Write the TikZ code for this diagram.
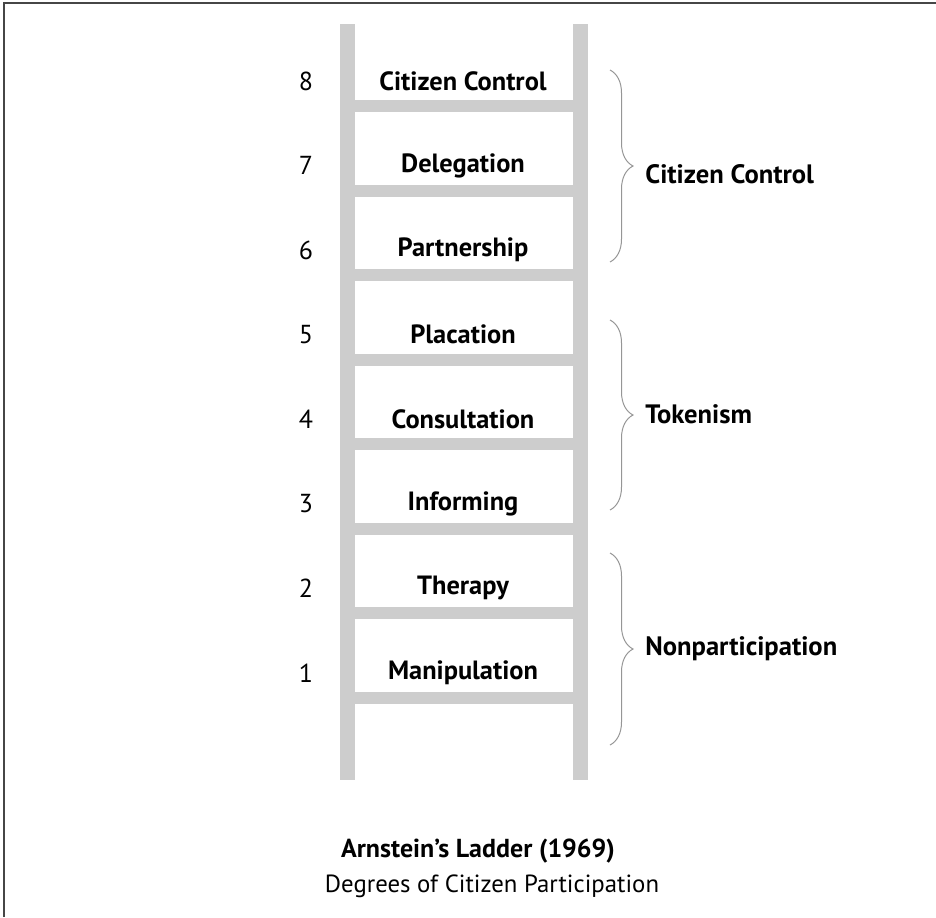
\documentclass[tikz,border=0pt]{standalone}
\usepackage{fontspec}
\setmainfont{PT Sans}
\usetikzlibrary{decorations.pathreplacing}
\definecolor{railgray}{RGB}{205,205,205}
\definecolor{bracegray}{RGB}{150,150,150}
\definecolor{framegray}{RGB}{70,70,70}
\tikzset{
  rail/.style={fill=railgray,draw=none},
  rung label/.style={font=\bfseries\fontsize{13.2}{15}\selectfont,inner sep=0pt},
  num label/.style={font=\fontsize{13}{15}\selectfont,inner sep=0pt},
  group label/.style={font=\bfseries\fontsize{13.3}{15}\selectfont,inner sep=0pt,anchor=west},
  grp brace/.style={draw=bracegray,line width=0.5pt,decorate,
    decoration={brace,amplitude=11.5pt}}
}
\begin{document}
\begin{tikzpicture}[x=0.5pt,y=-0.5pt]
    \useasboundingbox (0,0) rectangle (936,917);
    % Frame
    \draw[framegray,line width=0.75pt] (4,917) -- (4,3) -- (936,3);

    % Rails
    \fill[rail] (340,24) rectangle (355,780);
    \fill[rail] (573,24) rectangle (588,780);

    % Rungs, rung labels and numbers
    \foreach \lbl [count=\k] in {Manipulation,Therapy,Informing,Consultation,Placation,Partnership,Delegation,Citizen Control} {
        \pgfmathsetmacro\ry{698-(\k-1)*84.57}
        \fill[rail] (355,\ry-6) rectangle (573,\ry+6);
        \node[rung label] (rung\k) at (463,\ry-25) {\lbl};
        \node[num label] (num\k) at (306,\ry-25) {\k};
    }

    % Braces
    \coordinate (cc top) at (610,70);
    \coordinate (cc bot) at (610,262);
    \coordinate (tk top) at (610,320);
    \coordinate (tk bot) at (610,510);
    \coordinate (np top) at (610,553);
    \coordinate (np bot) at (610,745);
    \draw[grp brace] (cc top) -- (cc bot);
    \draw[grp brace] (tk top) -- (tk bot);
    \draw[grp brace] (np top) -- (np bot);

    % Group labels
    \node[group label] (control) at (645,174) {Citizen Control};
    \node[group label] (tokenism) at (645,414) {Tokenism};
    \node[group label] (nonpart) at (645,649) {Nonparticipation};

    % Caption
    \node[font=\bfseries\fontsize{13}{15}\selectfont,inner sep=0pt] (title) at (478,851) {Arnstein’s Ladder (1969)};
    \node[font=\fontsize{12.4}{15}\selectfont,inner sep=0pt] (subtitle) at (492,886) {Degrees of Citizen Participation};
\end{tikzpicture}
\end{document}
